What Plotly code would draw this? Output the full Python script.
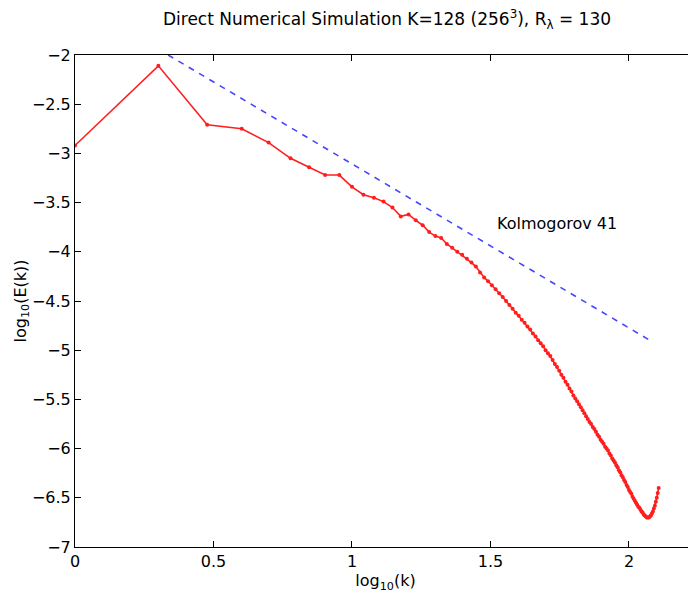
import numpy as np
import plotly.graph_objects as go

# wavenumbers k = 1..128
k = list(range(1, 129))
logE = [
    -2.92, -2.11, -2.71, -2.75, -2.89, -3.05, -3.14, -3.22, -3.22, -3.34,
    -3.42, -3.45, -3.49, -3.55, -3.64, -3.62, -3.68, -3.73, -3.80, -3.84,
    -3.86, -3.92, -3.96, -4.00, -4.03, -4.07, -4.11, -4.15, -4.21, -4.26,
    -4.30, -4.34, -4.38, -4.42, -4.46, -4.50, -4.54, -4.58, -4.62, -4.65,
    -4.69, -4.72, -4.76, -4.79, -4.83, -4.86, -4.90, -4.93, -4.96, -5.00,
    -5.03, -5.06, -5.10, -5.14, -5.17, -5.21, -5.25, -5.28, -5.32, -5.35,
    -5.39, -5.42, -5.46, -5.49, -5.52, -5.55, -5.58, -5.61, -5.64, -5.67,
    -5.70, -5.73, -5.75, -5.78, -5.80, -5.83, -5.86, -5.88, -5.91, -5.93,
    -5.95, -5.98, -6.00, -6.02, -6.05, -6.07, -6.10, -6.12, -6.14, -6.17,
    -6.19, -6.22, -6.24, -6.27, -6.29, -6.32, -6.34, -6.37, -6.39, -6.42,
    -6.44, -6.46, -6.49, -6.51, -6.53, -6.55, -6.57, -6.59, -6.60, -6.62,
    -6.64, -6.65, -6.67, -6.68, -6.69, -6.70, -6.70, -6.70, -6.69, -6.68,
    -6.66, -6.64, -6.61, -6.58, -6.54, -6.50, -6.45, -6.40,
]

# Kolmogorov 41 reference line (slope -5/3)
k41_x = [0.336, 2.08]
k41_y = [-2.0, -4.907]

xtick_vals = [0, 0.5, 1, 1.5, 2]
xtick_text = ["0", "0.5", "1", "1.5", "2"]
ytick_vals = [-7, -6.5, -6, -5.5, -5, -4.5, -4, -3.5, -3, -2.5, -2]
ytick_text = ["−7", "−6.5", "−6", "−5.5", "−5", "−4.5", "−4", "−3.5", "−3", "−2.5", "−2"]

FONT = "DejaVu Sans, sans-serif"
FS = 16

# page body has an 8px margin; figure is sized to fit the 696x596 window
W, H = 688, 588

fig = go.Figure()
fig.add_trace(go.Scatter(
    x=np.log10(k), y=logE, mode="lines+markers",
    line=dict(color="rgb(255,30,30)", width=1.6),
    marker=dict(color="rgb(255,30,30)", size=4),
    showlegend=False,
))
fig.add_trace(go.Scatter(
    x=k41_x, y=k41_y, mode="lines",
    line=dict(color="rgb(70,70,255)", width=1.6, dash="6px,6px"),
    showlegend=False,
))
fig.add_annotation(x=1.526, y=-3.71, text="Kolmogorov 41", showarrow=False,
                   xanchor="left", yanchor="middle", xshift=-3,
                   font=dict(family=FONT, size=FS, color="black"))

axis_common = dict(
    showgrid=False, zeroline=False, showline=True, linecolor="black", linewidth=1,
    mirror="ticks", ticks="inside", ticklen=6, tickcolor="black", automargin=False,
    tickfont=dict(family=FONT, size=FS, color="black"),
)
fig.update_layout(
    width=W, height=H,
    margin=dict(l=67, r=0, t=47, b=49),
    paper_bgcolor="white", plot_bgcolor="white",
    title=dict(text="Direct Numerical Simulation K=128 (256<sup>3</sup>), R<sub>λ</sub> = 130",
               x=379 / W, xanchor="center", y=1 - 11.5 / H, yanchor="middle",
               font=dict(family=FONT, size=17, color="black")),
    xaxis=dict(range=[0, 2.242], tickvals=xtick_vals, ticktext=xtick_text,
               title=dict(text="log<sub>10</sub>(k)", standoff=0,
                          font=dict(family=FONT, size=FS, color="black")),
               **axis_common),
    yaxis=dict(range=[-7, -2], tickvals=ytick_vals, ticktext=ytick_text,
               title=dict(text="log<sub>10</sub>(E(k))", standoff=0,
                          font=dict(family=FONT, size=FS, color="black")),
               **axis_common),
)
fig.write_html("out.html")
